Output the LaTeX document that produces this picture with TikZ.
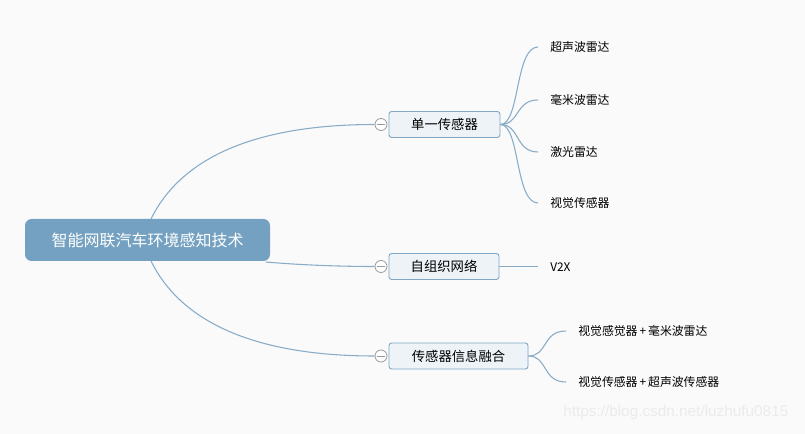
\documentclass[tikz,border=0pt]{standalone}
\usepackage{fontspec}
\newfontfamily\cjk{Noto Sans CJK SC}
\setmainfont{Liberation Sans}
\definecolor{bg}{HTML}{FAFAFA}
\definecolor{rootfill}{HTML}{74A1C1}
\definecolor{boxfill}{HTML}{EEF3F7}
\definecolor{boxline}{HTML}{7FA6C4}
\definecolor{conn}{HTML}{88ABC7}
\definecolor{knob}{HTML}{9A9A9A}
\tikzset{
  rootbox/.style={rounded corners=5pt, fill=rootfill, text=white, minimum width=245*0.75pt, minimum height=42*0.75pt, inner sep=0pt, font=\cjk\fontsize{12}{14}\selectfont},
  branchbox/.style={rounded corners=2pt, draw=boxline, fill=boxfill, line width=0.7pt, minimum height=26*0.75pt, inner sep=0pt, font=\cjk\fontsize{10}{12}\selectfont},
  leaf/.style={anchor=west, inner sep=0pt, font=\cjk\fontsize{8.9}{10}\selectfont},
  knobc/.style={circle, draw=knob, fill=white, line width=0.6pt, minimum size=12*0.75pt, inner sep=0pt},
  link/.style={draw=conn, line width=0.8pt},
}
\begin{document}
\begin{tikzpicture}[x=0.75pt,y=-0.75pt]
\fill[bg] (0,0) rectangle (805,434);
\useasboundingbox (0,0) rectangle (805,434);

\node[rootbox] (root) at (147.5,240) {智能网联汽车环境感知技术};

\node[branchbox, minimum width=111*0.75pt] (b1) at (444.5,124.5) {单一传感器};
\node[branchbox, minimum width=110*0.75pt] (b2) at (444,266.5) {自组织网络};
\node[branchbox, minimum width=139*0.75pt] (b3) at (458.5,356) {传感器信息融合};

\node[knobc] (k1) at (381,124.5) {};
\node[knobc] (k2) at (381,266.5) {};
\node[knobc] (k3) at (381,356) {};
\foreach \k in {k1,k2,k3} \draw[knob, line width=0.6pt] ([xshift=-3.2pt]\k.center) -- ([xshift=3.2pt]\k.center);

% root connectors
\coordinate (r1) at (151,219);
\coordinate (r2) at (266,262);
\coordinate (r3) at (151,261);
\draw[link] (r1) .. controls (185,150) and (270,124.5) .. (k1.west);
\draw[link] (r2) .. controls (300,265) and (340,266.5) .. (k2.west);
\draw[link] (r3) .. controls (185,330) and (270,356) .. (k3.west);

% leaves of b1
\node[leaf] (l1) at (550,47) {超声波雷达};
\node[leaf] (l2) at (550,100) {毫米波雷达};
\node[leaf] (l3) at (550,152) {激光雷达};
\node[leaf] (l4) at (550,203) {视觉传感器};
\coordinate (e1) at (538,47);
\coordinate (e2) at (538,100);
\coordinate (e3) at (538,152);
\coordinate (e4) at (538,203);
\foreach \e in {e1,e2,e3,e4}
  \draw[link] (b1.east) .. controls (520,124.5) and (515,0|-\e) .. (\e);

% b2 leaf
\node[leaf] (v2x) at (550,267) {V2X};
\coordinate (e5) at (538,266.5);
\draw[link] (b2.east) -- (e5);

% b3 leaves
\node[leaf] (f1) at (578,331) {视觉感觉器\,+\,毫米波雷达};
\node[leaf] (f2) at (578,382) {视觉传感器\,+\,超声波传感器};
\coordinate (e6) at (566,331);
\coordinate (e7) at (566,382);
\draw[link] (b3.east) .. controls (548,356) and (542,331) .. (e6);
\draw[link] (b3.east) .. controls (548,356) and (542,382) .. (e7);

% watermark
\node[anchor=west, inner sep=0pt, text=black!8, font=\fontsize{11.5}{13}\selectfont] (wm) at (563,413) {https://blog.csdn.net/luzhufu0815};
\end{tikzpicture}
\end{document}
